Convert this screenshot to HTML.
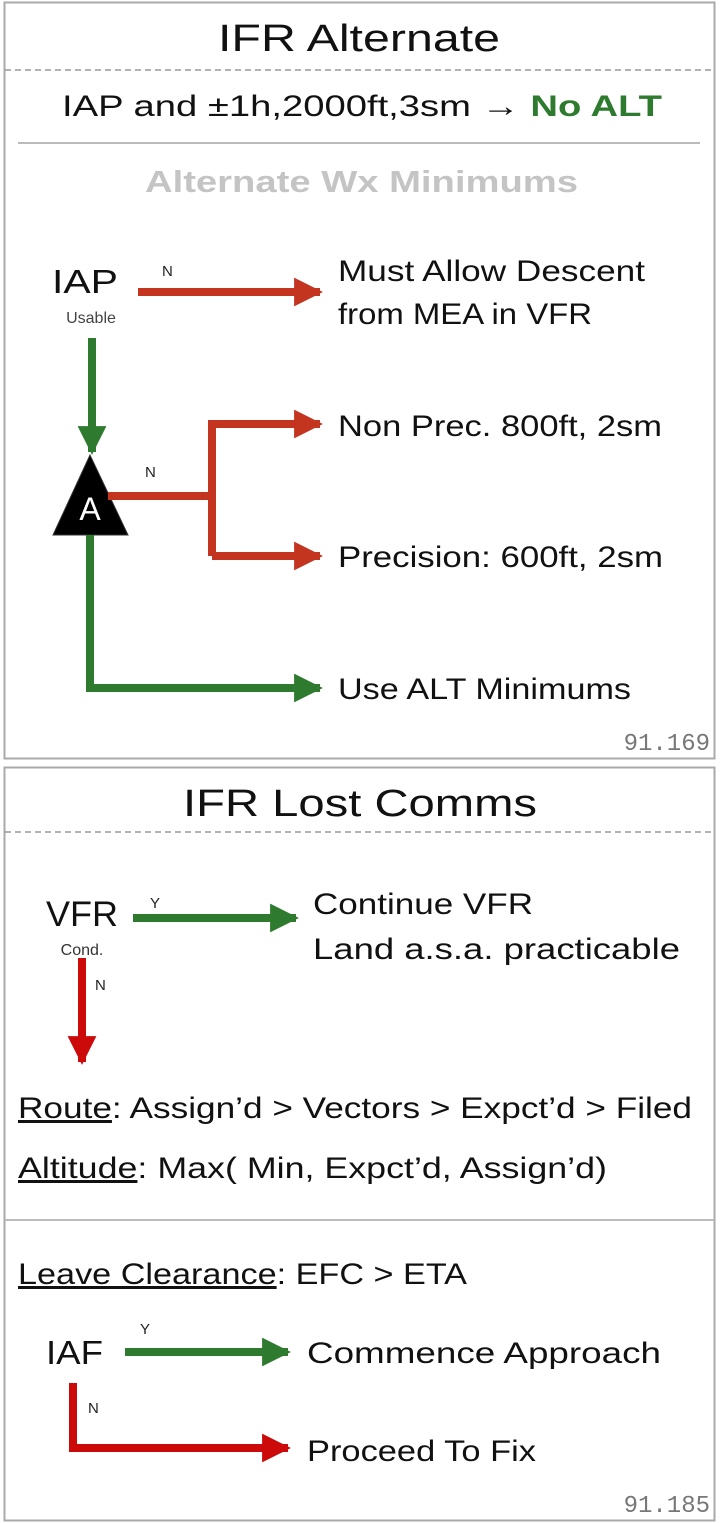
<!DOCTYPE html>
<html><head><meta charset="utf-8"><style>
html,body{margin:0;padding:0;background:#fff;}
svg{display:block;font-family:"Liberation Sans",sans-serif;}
</style></head><body>
<svg width="720" height="1523" viewBox="0 0 720 1523" xmlns="http://www.w3.org/2000/svg">
<defs>
<marker id="r" viewBox="0 0 10 10" refX="9" refY="5" markerWidth="3.6" markerHeight="3.6" orient="auto" markerUnits="strokeWidth"><path d="M0,0L10,5L0,10z" fill="#c4351f"/></marker>
<marker id="g" viewBox="0 0 10 10" refX="9" refY="5" markerWidth="3.6" markerHeight="3.6" orient="auto" markerUnits="strokeWidth"><path d="M0,0L10,5L0,10z" fill="#2e7a2e"/></marker>
<marker id="r2" viewBox="0 0 10 10" refX="9" refY="5" markerWidth="3.6" markerHeight="3.6" orient="auto" markerUnits="strokeWidth"><path d="M0,0L10,5L0,10z" fill="#cc0a0a"/></marker>
</defs>
<!-- Panel 1 -->
<rect x="4.5" y="2.5" width="710" height="756" fill="none" stroke="#aaa" stroke-width="2"/>
<text x="218" y="51" font-size="38" textLength="282" lengthAdjust="spacingAndGlyphs" fill="#111">IFR Alternate</text>
<line x1="5" y1="70" x2="714" y2="70" stroke="#999" stroke-width="1.5" stroke-dasharray="6,4"/>
<text x="62" y="116" font-size="30" textLength="600" lengthAdjust="spacingAndGlyphs" fill="#111">IAP and ±1h,2000ft,3sm → <tspan font-weight="bold" fill="#2e7a2e">No ALT</tspan></text>
<line x1="18" y1="143" x2="700" y2="143" stroke="#bbb" stroke-width="2"/>
<text x="145" y="192" font-size="31" font-weight="bold" textLength="433" lengthAdjust="spacingAndGlyphs" fill="#c4c4c4">Alternate Wx Minimums</text>
<text x="52" y="293" font-size="33" textLength="66" lengthAdjust="spacingAndGlyphs" fill="#111">IAP</text>
<text x="91" y="323" font-size="16" text-anchor="middle" fill="#444">Usable</text>
<text x="162" y="276" font-size="15" fill="#222">N</text>
<line x1="138" y1="292" x2="320" y2="292" stroke="#c4351f" stroke-width="8" marker-end="url(#r)"/>
<text x="338" y="281" font-size="30" textLength="307" lengthAdjust="spacingAndGlyphs" fill="#111">Must Allow Descent</text>
<text x="338" y="324" font-size="30" textLength="254" lengthAdjust="spacingAndGlyphs" fill="#111">from MEA in VFR</text>
<line x1="92" y1="338" x2="92" y2="452" stroke="#2e7a2e" stroke-width="8" marker-end="url(#g)"/>
<polygon points="90,455 53,535 128,535" fill="#000" stroke="#333" stroke-width="1"/>
<text x="90" y="520" font-size="32" text-anchor="middle" fill="#fff">A</text>
<text x="145" y="477" font-size="15" fill="#222">N</text>
<polyline points="108,496 212,496" fill="none" stroke="#c4351f" stroke-width="8"/>
<polyline points="212,556 212,424 320,424" fill="none" stroke="#c4351f" stroke-width="8" marker-end="url(#r)"/>
<polyline points="212,556 320,556" fill="none" stroke="#c4351f" stroke-width="8" marker-end="url(#r)"/>
<text x="338" y="436" font-size="30" textLength="324" lengthAdjust="spacingAndGlyphs" fill="#111">Non Prec. 800ft, 2sm</text>
<text x="338" y="567" font-size="30" textLength="325" lengthAdjust="spacingAndGlyphs" fill="#111">Precision: 600ft, 2sm</text>
<polyline points="90,535 90,688 320,688" fill="none" stroke="#2e7a2e" stroke-width="8" marker-end="url(#g)"/>
<text x="338" y="699" font-size="30" textLength="293" lengthAdjust="spacingAndGlyphs" fill="#111">Use ALT Minimums</text>
<text x="710" y="750" font-size="24" text-anchor="end" fill="#777" font-family="Liberation Mono, DejaVu Sans Mono, monospace">91.169</text>
<!-- Panel 2 -->
<rect x="4.5" y="767.5" width="710" height="753" fill="none" stroke="#aaa" stroke-width="2"/>
<text x="183" y="816" font-size="38" textLength="354" lengthAdjust="spacingAndGlyphs" fill="#111">IFR Lost Comms</text>
<line x1="5" y1="832" x2="714" y2="832" stroke="#999" stroke-width="1.5" stroke-dasharray="6,4"/>
<text x="46" y="926" font-size="35" textLength="72" lengthAdjust="spacingAndGlyphs" fill="#111">VFR</text>
<text x="82" y="955" font-size="16" text-anchor="middle" fill="#333">Cond.</text>
<text x="150" y="908" font-size="15" fill="#222">Y</text>
<line x1="133" y1="918" x2="296" y2="918" stroke="#2e7a2e" stroke-width="8" marker-end="url(#g)"/>
<text x="313" y="914" font-size="30" textLength="220" lengthAdjust="spacingAndGlyphs" fill="#111">Continue VFR</text>
<text x="313" y="959" font-size="30" textLength="367" lengthAdjust="spacingAndGlyphs" fill="#111">Land a.s.a. practicable</text>
<line x1="82" y1="958" x2="82" y2="1062" stroke="#cc0a0a" stroke-width="8" marker-end="url(#r2)"/>
<text x="95" y="990" font-size="15" fill="#222">N</text>
<text x="18" y="1118" font-size="30" textLength="674" lengthAdjust="spacingAndGlyphs" fill="#111"><tspan text-decoration="underline">Route</tspan>: Assign’d &gt; Vectors &gt; Expct’d &gt; Filed</text>
<text x="18" y="1178" font-size="30" textLength="589" lengthAdjust="spacingAndGlyphs" fill="#111"><tspan text-decoration="underline">Altitude</tspan>: Max( Min, Expct’d, Assign’d)</text>
<line x1="5" y1="1220" x2="714" y2="1220" stroke="#bbb" stroke-width="2"/>
<text x="18" y="1284" font-size="30" textLength="449" lengthAdjust="spacingAndGlyphs" fill="#111"><tspan text-decoration="underline">Leave Clearance</tspan>: EFC &gt; ETA</text>
<text x="46" y="1364" font-size="33" textLength="57" lengthAdjust="spacingAndGlyphs" fill="#111">IAF</text>
<text x="140" y="1334" font-size="15" fill="#222">Y</text>
<line x1="125" y1="1352" x2="288" y2="1352" stroke="#2e7a2e" stroke-width="8" marker-end="url(#g)"/>
<text x="307" y="1363" font-size="30" textLength="354" lengthAdjust="spacingAndGlyphs" fill="#111">Commence Approach</text>
<polyline points="73,1383 73,1448 288,1448" fill="none" stroke="#cc0a0a" stroke-width="8" marker-end="url(#r2)"/>
<text x="88" y="1413" font-size="15" fill="#222">N</text>
<text x="307" y="1461" font-size="30" textLength="229" lengthAdjust="spacingAndGlyphs" fill="#111">Proceed To Fix</text>
<text x="710" y="1512" font-size="24" text-anchor="end" fill="#777" font-family="Liberation Mono, DejaVu Sans Mono, monospace">91.185</text>
</svg>
</body></html>
